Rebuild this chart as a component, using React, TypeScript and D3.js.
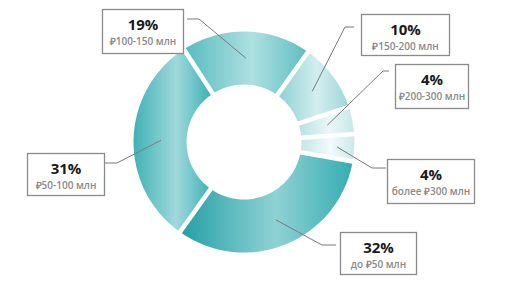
import React, { useEffect, useRef } from "react";
import * as d3 from "d3";

const width = 508;
const height = 294;

// shares of the pie, clockwise from the top-left slice
const shares = [19, 10, 4, 4, 32, 31];
const percentLabels = ["19%", "10%", "4%", "4%", "32%", "31%"];
const rangeLabels = [
  "₽100-150 млн",
  "₽150-200 млн",
  "₽200-300 млн",
  "более ₽300 млн",
  "до ₽50 млн",
  "₽50-100 млн",
];

// gradient colours per slice: edge, highlight, edge
const sliceColors = [
  ["#58bcc0", "#aee0e1", "#5fbfc2"],
  ["#8fd1d3", "#d3eeef", "#9ed7d9"],
  ["#b6e2e3", "#ebf7f7", "#c6e8e9"],
  ["#c3e6e7", "#f3fafa", "#cce9ea"],
  ["#25a0a6", "#8fd2d4", "#35adb2"],
  ["#3fb2b6", "#a0d9db", "#3fb0b5"],
];

// label boxes: [x, y, w, h], leader end and elbow
const layout = [
  { box: [102, 9, 81, 44], end: [187, 19], elbow: [199, 19], r: 84 },
  { box: [361, 14, 88, 41], end: [354, 27], elbow: [345, 27], r: 85 },
  { box: [395, 64, 73, 44], end: [389, 71], elbow: [383, 71], r: 85 },
  { box: [387, 159, 87, 44], end: [386, 168], elbow: [372, 168], r: 93 },
  { box: [340, 232, 76, 42], end: [336, 245], elbow: [322, 245], r: 84 },
  { box: [27, 153, 77, 42], end: [104, 163], elbow: [117, 163], r: 83 },
];

const cx = 244;
const cy = 142;
const outerR = 110.5;
const innerR = 57.5;

export default function App() {
  const ref = useRef<SVGSVGElement>(null);

  useEffect(() => {
    const svg = d3.select(ref.current);
    svg.selectAll("*").remove();

    const start = (-33 * Math.PI) / 180;
    const pie = d3
      .pie<number>()
      .sort(null)
      .value(d => d)
      .startAngle(start)
      .endAngle(start + 2 * Math.PI);
    const arcs = pie(shares);

    const arc = d3
      .arc<d3.PieArcDatum<number>>()
      .innerRadius(innerR)
      .outerRadius(outerR)
      .padRadius(outerR)
      .padAngle(4.5 / outerR);

    const defs = svg.append("defs");
    sliceColors.forEach((c, i) => {
      const g = defs
        .append("linearGradient")
        .attr("id", `slice-${i}`)
        .attr("x1", 0)
        .attr("x2", 1)
        .attr("y1", 0)
        .attr("y2", 0);
      g.append("stop").attr("offset", 0).attr("stop-color", c[0]);
      g.append("stop").attr("offset", 0.55).attr("stop-color", c[1]);
      g.append("stop").attr("offset", 1).attr("stop-color", c[2]);
    });

    const chart = svg.append("g").attr("transform", `translate(${cx},${cy})`);

    chart
      .selectAll("path")
      .data(arcs)
      .join("path")
      .attr("d", arc)
      .attr("fill", (d, i) => `url(#slice-${i})`);

    // leader lines
    svg
      .append("g")
      .attr("fill", "none")
      .attr("stroke", "#7a7a7a")
      .attr("stroke-width", 1)
      .selectAll("path")
      .data(arcs)
      .join("path")
      .attr("d", (d, i) => {
        const l = layout[i];
        const [px, py] = d3
          .arc<d3.PieArcDatum<number>>()
          .innerRadius(l.r)
          .outerRadius(l.r)
          .centroid(d);
        return d3.line()([
          [cx + px, cy + py],
          l.elbow as [number, number],
          l.end as [number, number],
        ]);
      });

    // label boxes
    const labels = svg
      .append("g")
      .selectAll("g")
      .data(layout)
      .join("g")
      .attr("transform", d => `translate(${d.box[0]},${d.box[1]})`);

    labels
      .append("rect")
      .attr("x", 0.5)
      .attr("y", 0.5)
      .attr("width", d => d.box[2])
      .attr("height", d => d.box[3])
      .attr("fill", "#fff")
      .attr("stroke", "#8a8a8a")
      .attr("stroke-width", 1.3);

    labels
      .append("text")
      .attr("x", d => d.box[2] / 2 + 0.5)
      .attr("y", 20.5)
      .attr("text-anchor", "middle")
      .attr("font-family", "'Open Sans', sans-serif")
      .attr("font-weight", 700)
      .attr("font-size", 15)
      .attr("fill", "#1a1a1a")
      .text((d, i) => percentLabels[i]);

    labels
      .append("text")
      .attr("x", d => d.box[2] / 2 + 0.5)
      .attr("y", 35.5)
      .attr("text-anchor", "middle")
      .attr("font-family", "'Open Sans', sans-serif")
      .attr("font-weight", 600)
      .attr("font-size", 10)
      .attr("fill", "#8a8a8a")
      .text((d, i) => rangeLabels[i]);
  }, []);

  return (
    <svg
      ref={ref}
      width={width}
      height={height}
      style={{ position: "absolute", left: 0, top: 0, background: "#fff" }}
    />
  );
}
